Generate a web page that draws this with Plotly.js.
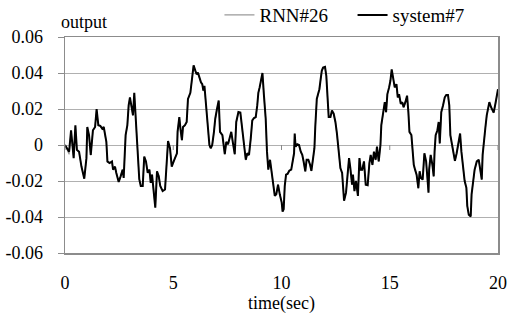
<!DOCTYPE html>
<html>
<head>
<meta charset="utf-8">
<script src="https://cdn.plot.ly/plotly-3.0.1.min.js"></script>
<style>html,body{margin:0;padding:0;background:#fff;}#chart{width:508px;height:320px;}</style>
</head>
<body>
<div id="chart"></div>
<script>
const time = [0, 0.09, 0.19, 0.28, 0.34, 0.40, 0.48, 0.55, 0.65, 0.76, 0.89, 0.99, 1.03, 1.11, 1.19, 1.29, 1.39, 1.46, 1.54, 1.63,
  1.72, 1.79, 1.91, 1.96, 2.06, 2.17, 2.22, 2.31, 2.37, 2.48, 2.57, 2.66, 2.71, 2.80, 2.88, 2.94, 3.00, 3.07, 3.14, 3.20,
  3.27, 3.33, 3.43, 3.50, 3.59, 3.66, 3.74, 3.82, 3.90, 3.96, 4.02, 4.10, 4.17, 4.25, 4.33, 4.40, 4.51, 4.62, 4.71, 4.76,
  4.85, 4.93, 5.02, 5.10, 5.17, 5.20, 5.28, 5.34, 5.40, 5.45, 5.54, 5.62, 5.68, 5.79, 5.87, 5.94, 6.02, 6.08, 6.14, 6.20,
  6.28, 6.34, 6.39, 6.44, 6.51, 6.61, 6.67, 6.73, 6.80, 6.88, 6.94, 7.02, 7.10, 7.16, 7.27, 7.38, 7.45, 7.53, 7.61, 7.68,
  7.76, 7.84, 7.91, 8.01, 8.10, 8.19, 8.28, 8.35, 8.42, 8.50, 8.58, 8.65, 8.73, 8.81, 8.88, 8.93, 8.99, 9.05, 9.12, 9.19,
  9.27, 9.33, 9.39, 9.47, 9.55, 9.61, 9.69, 9.76, 9.84, 9.92, 10.01, 10.05, 10.10, 10.15, 10.21, 10.28, 10.36, 10.45, 10.53, 10.58,
  10.61, 10.65, 10.73, 10.81, 10.89, 10.96, 11.02, 11.10, 11.16, 11.24, 11.32, 11.38, 11.46, 11.52, 11.56, 11.63, 11.69, 11.75, 11.80, 11.86,
  11.92, 12.01, 12.07, 12.12, 12.18, 12.26, 12.33, 12.41, 12.49, 12.56, 12.64, 12.72, 12.80, 12.84, 12.89, 12.98, 13.06, 13.12, 13.18, 13.26,
  13.30, 13.37, 13.44, 13.47, 13.53, 13.60, 13.66, 13.73, 13.81, 13.89, 13.98, 14.06, 14.12, 14.20, 14.27, 14.35, 14.41, 14.49, 14.57, 14.61,
  14.70, 14.77, 14.83, 14.89, 14.97, 15.03, 15.09, 15.17, 15.23, 15.31, 15.37, 15.43, 15.51, 15.58, 15.64, 15.72, 15.80, 15.86, 15.91, 16.00,
  16.06, 16.11, 16.17, 16.24, 16.32, 16.38, 16.44, 16.52, 16.60, 16.68, 16.75, 16.79, 16.82, 16.89, 16.97, 17.03, 17.07, 17.12, 17.20, 17.26,
  17.31, 17.34, 17.38, 17.46, 17.54, 17.61, 17.69, 17.75, 17.80, 17.88, 17.95, 18.01, 18.09, 18.18, 18.25, 18.31, 18.38, 18.46, 18.54, 18.58,
  18.65, 18.74, 18.78, 18.85, 18.92, 19.02, 19.11, 19.17, 19.25, 19.29, 19.36, 19.42, 19.48, 19.54, 19.60, 19.68, 19.76, 19.80, 19.88, 19.96,
  20.00];

const system7 = [0, -0.0018, -0.0037, 0.0082, 0.0018, -0.0073, 0.011, -0.0027, -0.0037, -0.012, -0.0187, -0.0073, 0.010, 0.0055, -0.0055, 0.0082, 0.010, 0.020, 0.011, 0.0106,
  0.0091, 0.010, 0.0018, -0.0091, -0.010, -0.0091, -0.0137, -0.012, -0.0155, -0.0205, -0.0174, -0.0137, -0.0183, 0.0055, 0.011, 0.022, 0.0265, 0.022, 0.0165, 0.029,
  0.0165, 0.0018, -0.019, -0.0228, -0.0228, -0.0064, -0.0091, -0.0155, -0.0137, -0.021, -0.0165, -0.0256, -0.0348, -0.0146, -0.0174, -0.0228, -0.0256, -0.0247, -0.0055, 0.0022,
  -0.0018, -0.012, -0.0091, -0.0064, -0.0046, 0.0073, 0.0155, 0.0082, 0.0027, 0.010, 0.011, 0.0128, 0.0256, 0.029, 0.0366, 0.0443, 0.0413, 0.0393, 0.0402, 0.0375,
  0.0348, 0.0338, 0.0302, 0.0329, 0.022, 0.011, 0, -0.0018, 0, 0.0073, 0.0146, 0.020, 0.0247, 0.0073, 0.0055, -0.0051, 0.0018, 0.0004, 0.0037, 0.0073,
  0.0009, -0.0051, 0.0128, 0.0183, 0.018, 0.0073, -0.0037, -0.0082, -0.0046, -0.0055, 0.0037, 0.0137, 0.015, 0.0155, 0.022, 0.029, 0.032, 0.0366, 0.040, 0.0274,
  0.0146, -0.0037, -0.0137, -0.0082, -0.0146, -0.022, -0.0283, -0.0274, -0.022, -0.0274, -0.032, -0.037, -0.0357, -0.0228, -0.0165, -0.0161, -0.0143, -0.0137, -0.0091, -0.0046,
  0.0064, -0.0009, 0.0004, 0, -0.0037, -0.0055, -0.0091, -0.0146, -0.0082, -0.0082, -0.011, -0.0143, -0.0073, -0.0018, 0.010, 0.0256, 0.0283, 0.031, 0.0357, 0.0412,
  0.043, 0.0434, 0.0384, 0.0293, 0.0155, 0.0155, 0.0192, 0.0174, 0.0128, 0.0064, -0.0055, -0.0128, -0.0155, -0.022, -0.031, -0.0265, -0.0146, -0.0073, -0.0128, -0.022,
  -0.0165, -0.0256, -0.020, -0.0228, -0.0283, -0.0073, -0.0137, -0.0137, -0.0091, -0.022, -0.0223, -0.010, -0.0055, -0.011, -0.0037, -0.0082, -0.0009, -0.0091, 0, 0.011,
  0.0183, 0.0238, 0.0183, 0.0283, 0.032, 0.0357, 0.042, 0.0357, 0.032, 0.0338, 0.0265, 0.0283, 0.0229, 0.0238, 0.021, 0.0238, 0.0274, 0.0183, 0.0073, 0.0055,
  -0.0037, -0.011, -0.0137, -0.0165, -0.024, -0.0146, -0.0183, -0.0192, -0.0046, -0.0091, -0.020, -0.0265, -0.0137, -0.0055, -0.011, -0.0174, -0.0037, 0.0055, 0.0082, 0.0128,
  0.0009, 0.0128, 0.0183, 0.022, 0.0265, 0.0278, 0.0278, 0.022, 0.0055, 0, -0.0055, -0.0088, -0.0046, 0.0018, 0.0064, -0.0037, -0.0128, -0.020, -0.0238, -0.0338,
  -0.0388, -0.0397, -0.0274, -0.020, -0.0137, -0.0091, -0.0082, -0.0128, -0.0192, -0.0055, 0.0055, 0.010, 0.0165, 0.020, 0.0238, 0.021, 0.0183, 0.018, 0.0229, 0.0283,
  0.031];

const rnn26 = [0, -0.0030, -0.0052, 0.0075, 0.0015, -0.0070, 0.0105, -0.0030, -0.0040, -0.0118, -0.0185, -0.0075, 0.0098, 0.0052, -0.0058, 0.0080, 0.0098, 0.0195, 0.0108, 0.0104,
  0.0090, 0.0098, 0.0016, -0.0095, -0.0102, -0.0093, -0.0135, -0.0122, -0.0153, -0.0203, -0.0172, -0.0135, -0.0180, 0.0053, 0.0108, 0.0218, 0.0262, 0.0218, 0.0163, 0.0287,
  0.0163, 0.0016, -0.0188, -0.0226, -0.0226, -0.0066, -0.0093, -0.0153, -0.0135, -0.0208, -0.0163, -0.0254, -0.0345, -0.0148, -0.0172, -0.0226, -0.0254, -0.0245, -0.0057, 0.0020,
  -0.0020, -0.0118, -0.0093, -0.0066, -0.0048, 0.0071, 0.0153, 0.0080, 0.0025, 0.0098, 0.0108, 0.0126, 0.0254, 0.0288, 0.0364, 0.0440, 0.0410, 0.0391, 0.0400, 0.0373,
  0.0346, 0.0336, 0.0300, 0.0327, 0.0218, 0.0108, -0.0002, -0.0020, -0.0002, 0.0071, 0.0144, 0.0198, 0.0245, 0.0071, 0.0053, -0.0053, 0.0016, 0.0002, 0.0035, 0.0071,
  0.0007, -0.0053, 0.0126, 0.0181, 0.0178, 0.0071, -0.0039, -0.0084, -0.0048, -0.0057, 0.0035, 0.0135, 0.0148, 0.0153, 0.0218, 0.0288, 0.0318, 0.0364, 0.0398, 0.0272,
  0.0144, -0.0039, -0.0135, -0.0084, -0.0148, -0.0218, -0.0281, -0.0272, -0.0218, -0.0272, -0.0318, -0.0368, -0.0355, -0.0226, -0.0163, -0.0159, -0.0141, -0.0135, -0.0093, -0.0048,
  0.0062, -0.0011, 0.0002, -0.0002, -0.0039, -0.0057, -0.0093, -0.0148, -0.0084, -0.0084, -0.0112, -0.0145, -0.0075, -0.0020, 0.0098, 0.0254, 0.0281, 0.0308, 0.0355, 0.0410,
  0.0428, 0.0432, 0.0382, 0.0291, 0.0153, 0.0153, 0.0190, 0.0172, 0.0126, 0.0062, -0.0057, -0.0130, -0.0157, -0.0222, -0.0308, -0.0263, -0.0148, -0.0075, -0.0130, -0.0222,
  -0.0167, -0.0254, -0.0202, -0.0230, -0.0281, -0.0075, -0.0139, -0.0139, -0.0093, -0.0222, -0.0221, -0.0102, -0.0057, -0.0112, -0.0039, -0.0084, -0.0011, -0.0093, -0.0002, 0.0108,
  0.0181, 0.0236, 0.0181, 0.0281, 0.0318, 0.0355, 0.0418, 0.0355, 0.0318, 0.0336, 0.0263, 0.0281, 0.0227, 0.0236, 0.0208, 0.0236, 0.0272, 0.0181, 0.0071, 0.0053,
  -0.0039, -0.0112, -0.0139, -0.0167, -0.0242, -0.0148, -0.0185, -0.0194, -0.0048, -0.0093, -0.0202, -0.0263, -0.0139, -0.0057, -0.0112, -0.0176, -0.0039, 0.0053, 0.0080, 0.0126,
  0.0007, 0.0126, 0.0181, 0.0218, 0.0263, 0.0276, 0.0276, 0.0218, 0.0053, -0.0002, -0.0057, -0.0090, -0.0048, 0.0016, 0.0062, -0.0039, -0.0130, -0.0202, -0.0240, -0.0336,
  -0.0386, -0.0395, -0.0272, -0.0202, -0.0139, -0.0093, -0.0084, -0.0130, -0.0194, -0.0057, 0.0053, 0.0098, 0.0163, 0.0198, 0.0236, 0.0208, 0.0181, 0.0178, 0.0227, 0.0281,
  0.0308];

const yTickVals = [-0.06, -0.04, -0.02, 0, 0.02, 0.04, 0.06];
const yTickText = ["-0.06", "-0.04", "-0.02", "0", "0.02", "0.04", "0.06"];
const xTickVals = [0, 5, 10, 15, 20];
const xTickText = ["0", "5", "10", "15", "20"];

const FONT = 'Liberation Serif';

const traces = [
  {x: time, y: rnn26, type: 'scatter', mode: 'lines', name: 'RNN#26', legend: 'legend',
   line: {color: '#9a9a9a', width: 1.2}},
  {x: time, y: system7, type: 'scatter', mode: 'lines', name: 'system#7', legend: 'legend2',
   line: {color: '#000000', width: 2}}
];

const xTickShapes = xTickVals.map(v => ({
  type: 'line', xref: 'x', yref: 'y', ysizemode: 'pixel', yanchor: 0,
  x0: v, x1: v, y0: 0, y1: -5, line: {color: '#888', width: 1}
}));

const legendBase = {orientation: 'h', xref: 'container', yref: 'container', y: 0.953,
  xanchor: 'left', yanchor: 'middle', font: {family: FONT, size: 19, color: '#000'},
  bgcolor: 'rgba(0,0,0,0)', itemwidth: 30};

const layout = {
  width: 508, height: 320,
  margin: {l: 65, r: 10, t: 37, b: 67, autoexpand: false},
  paper_bgcolor: '#ffffff', plot_bgcolor: '#ffffff',
  font: {family: FONT, size: 18, color: '#000'},
  showlegend: true,
  legend: Object.assign({}, legendBase, {x: 0.432}),
  legend2: Object.assign({}, legendBase, {x: 0.694}),
  xaxis: {range: [0, 20], tickvals: xTickVals, ticktext: xTickText, ticks: '',
          showgrid: false, zeroline: false, showline: true, mirror: true,
          linecolor: '#8c8c8c', linewidth: 1.5, ticklabelstandoff: 13,
          tickfont: {family: FONT, size: 18, color: '#000'},
          title: {text: 'time(sec)', font: {family: FONT, size: 18, color: '#000'}, standoff: 0}},
  yaxis: {range: [-0.06, 0.06], tickvals: yTickVals, ticktext: yTickText,
          ticks: 'outside', ticklen: 6, tickcolor: '#8c8c8c', tickwidth: 1,
          showgrid: true, gridcolor: '#b0b0b0', gridwidth: 1, zeroline: false,
          showline: true, mirror: true, linecolor: '#8c8c8c', linewidth: 1.5,
          ticklabelstandoff: 11,
          tickfont: {family: FONT, size: 18, color: '#000'}},
  shapes: xTickShapes,
  annotations: [{text: 'output', xref: 'paper', yref: 'paper', x: -0.014, y: 1.015,
                 xanchor: 'left', yanchor: 'bottom', showarrow: false,
                 font: {family: FONT, size: 18, color: '#000'}}]
};

Plotly.newPlot('chart', traces, layout, {displayModeBar: false, staticPlot: true});
</script>
</body>
</html>
